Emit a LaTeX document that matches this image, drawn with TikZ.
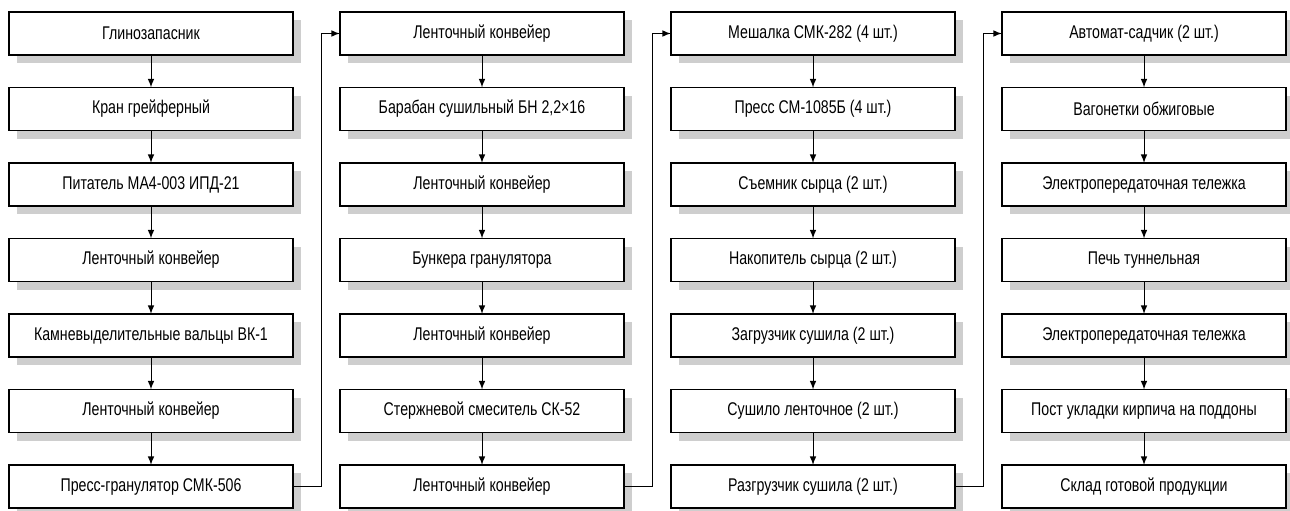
\documentclass[tikz,border=0pt]{standalone}
\usepackage{fontspec}
\setmainfont{Liberation Sans}[FakeStretch=0.77]
\definecolor{shadegray}{RGB}{206,206,206}
\tikzset{%
  >=latex, % small filled tips
  outer sep=0pt,%
  unit box/.style={draw,line width=0.65pt,fill=white,minimum width=142pt,
    minimum height=21.5pt,inner sep=0pt,font=\fontsize{9.2}{10}\selectfont},%
  flow/.style={->,line width=0.5pt}%
}

\begin{document}
\begin{tikzpicture}[x=0.5pt,y=0.5pt] % LINE

\useasboundingbox (0,0) rectangle (1290,-510);

% shadows first
\foreach \sx in {17,348,679,1010}
  \foreach \sy in {20,95.5,171,246.5,322,397.5,473}
    \fill[shadegray] (\sx,-\sy) rectangle ++(284,-43);

% column A
\foreach \t [count=\i] in {Глинозапасник,Кран грейферный,
    Питатель МА4-003 ИПД-21,Ленточный конвейер,
    Камневыделительные вальцы ВК-1,Ленточный конвейер,
    Пресс-гранулятор СМК-506}
  \node[unit box] (a\i) at (151,{-33.5-75.5*(\i-1)}) {\t};

% column B
\foreach \t [count=\i] in {Ленточный конвейер,{Барабан сушильный БН 2,2×16},
    Ленточный конвейер,Бункера гранулятора,Ленточный конвейер,
    Стержневой смеситель СК-52,Ленточный конвейер}
  \node[unit box] (b\i) at (482,{-33.5-75.5*(\i-1)}) {\t};

% column C
\foreach \t [count=\i] in {Мешалка СМК-282 (4 шт.),Пресс СМ-1085Б (4 шт.),
    Съемник сырца (2 шт.),Накопитель сырца (2 шт.),
    Загрузчик сушила (2 шт.),Сушило ленточное (2 шт.),
    Разгрузчик сушила (2 шт.)}
  \node[unit box] (c\i) at (813,{-33.5-75.5*(\i-1)}) {\t};

% column D
\foreach \t [count=\i] in {Автомат-садчик (2 шт.),Вагонетки обжиговые,
    Электропередаточная тележка,Печь туннельная,
    Электропередаточная тележка,Пост укладки кирпича на поддоны,
    Склад готовой продукции}
  \node[unit box] (d\i) at (1144,{-33.5-75.5*(\i-1)}) {\t};

% arrows down each column
\foreach \col in {a,b,c,d}
  \foreach \i/\j in {1/2,2/3,3/4,4/5,5/6,6/7}
    \draw[flow] (\col\i.south) -- (\col\j.north);

% links between columns
\draw[flow] (a7.east) -- ++(28,0) |- (b1.west);
\draw[flow] (b7.east) -- ++(28,0) |- (c1.west);
\draw[flow] (c7.east) -- ++(28,0) |- (d1.west);

\end{tikzpicture}
\end{document}
